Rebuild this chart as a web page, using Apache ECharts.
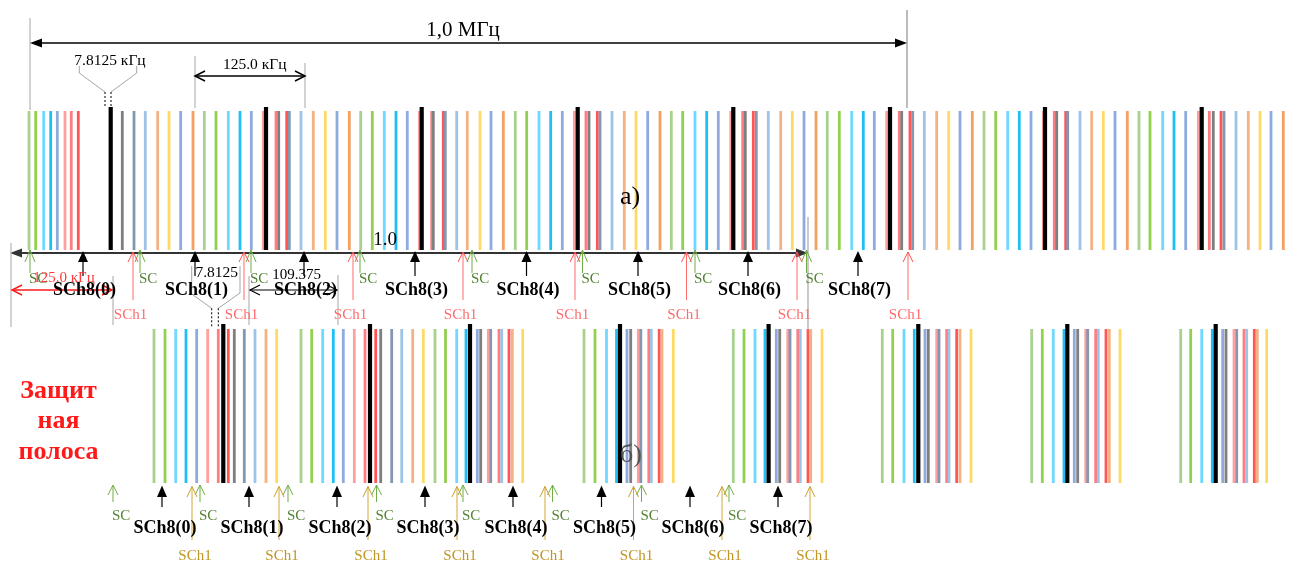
<!DOCTYPE html>
<html><head><meta charset="utf-8">
<script src="https://cdn.jsdelivr.net/npm/echarts@6/dist/echarts.min.js"></script>
<style>html,body{margin:0;padding:0;background:#fff}#c{width:1290px;height:563px}</style>
</head><body><div id="c"></div>
<script>
// ---------- colours of subcarrier lines ----------
const palette = {lg:'#a9d18e', g:'#92d050', lc:'#6fd8ff', c:'#1fbff5', b:'#8faadc', pk:'#ff9f9f',
  sa:'#ff7c80', r:'#ff5555', gy:'#7f7f7f', sl:'#8497b0', lb:'#9dc3e6', pe:'#f4b183', y:'#ffd966', o:'#f4a062', k:'#000000'};

// ---------- row (a): subcarrier positions (frequency position, colour code) ----------
const topLines = [
 [29,'lg'],[35.7,'g'],[43.7,'lc'],[50.7,'c'],[57.3,'b'],[65,'pk'],[71.3,'sa'],[78.3,'r'],
 [110.7,'k'],[122.3,'gy'],[134,'sl'],[145.3,'lb'],[157.7,'pe'],[169,'y'],[180.7,'b'],[193,'o'],[204.3,'lg'],[216,'g'],[228.3,'lc'],[240,'c'],[251.3,'b'],[263.3,'pk'],
 [266,'k'],[276,'sa'],[278.7,'gy'],[286.7,'r'],[289.3,'sl'],[301,'lb'],[313.3,'pe'],[325.3,'y'],[337,'b'],[349.3,'o'],[360.7,'lg'],[372.3,'g'],[384.3,'lc'],[396,'c'],[407.3,'b'],[419.3,'pk'],
 [421.7,'k'],[431.7,'sa'],[433.3,'gy'],[443.3,'r'],[445.3,'sl'],[456.7,'lb'],[467.3,'pe'],[480,'y'],[491,'b'],[503.3,'o'],[515.3,'lg'],[526.7,'g'],[539,'lc'],[550.7,'c'],[562.3,'b'],[574.3,'pk'],
 [577.7,'k'],[586,'sa'],[589,'gy'],[597.3,'r'],[600,'sl'],[612,'lb'],[624.3,'pe'],[636,'y'],[647.7,'b'],[660,'o'],[671.3,'lg'],[682.7,'g'],[695,'lc'],[706.7,'c'],[718.3,'b'],[730.7,'pk'],
 [733.3,'k'],[742.7,'sa'],[745.3,'gy'],[753.3,'r'],[756.3,'sl'],[768.3,'lb'],[780.7,'pe'],[792.3,'y'],[804,'b'],[816,'o'],[827.3,'lg'],[839.3,'g'],[851.7,'lc'],[863.3,'c'],[874.3,'b'],[886.7,'pk'],
 [890,'k'],[899.3,'sa'],[901.7,'gy'],[910,'r'],[912.7,'sl'],[924.3,'lb'],[936.7,'pe'],[948.7,'y'],[960,'b'],[972.3,'o'],[984,'lg'],[995.7,'g'],[1007.7,'lc'],[1019.3,'c'],[1031,'b'],[1043.3,'pk'],
 [1045,'k'],[1054.3,'sa'],[1056.7,'gy'],[1065.7,'r'],[1067.7,'sl'],[1080,'lb'],[1091.7,'pe'],[1103.3,'y'],[1115,'b'],[1127.3,'o'],[1139,'lg'],[1150,'g'],[1162.7,'lc'],[1174,'c'],[1185.7,'b'],[1198.3,'pk'],
 [1201.7,'k'],[1209.3,'sa'],[1213.3,'gy'],[1221,'r'],[1224,'sl'],[1236,'lb'],[1248.3,'pe'],[1260,'y'],[1271,'b'],[1283.3,'o']
];

// ---------- row (б): subcarrier positions ----------
const botLines = [
 [154,'lg'],[165,'g'],[175.7,'lc'],[186,'c'],[196.7,'b'],[207.7,'pk'],[218.3,'sa'],[223.3,'k'],[228.3,'r'],[234.3,'gy'],[244.3,'sl'],[255,'lb'],[266,'pe'],[276.7,'y'],
 [301,'lg'],[311.7,'g'],[322.7,'lc'],[333.3,'c'],[343.3,'b'],[354.3,'pk'],[365,'sa'],[370,'k'],[375.7,'r'],[380.7,'gy'],[391.7,'sl'],[401.7,'lb'],[412.7,'pe'],[423.3,'y'],
 [435,'lg'],[445.5,'g'],[456.7,'lc'],[466,'c'],[470,'k'],[477.3,'b'],[480.7,'gy'],[488.3,'pk'],[490.7,'sl'],[499,'sa'],[501.7,'lb'],[509,'r'],[512.3,'pe'],[522.7,'y'],
 [584,'lg'],[595,'g'],[606.5,'lc'],[616.5,'c'],[620,'k'],[627,'b'],[630.7,'gy'],[638.3,'pk'],[640.8,'sl'],[648.8,'sa'],[651.3,'lb'],[659.2,'r'],[662,'pe'],[673.3,'y'],
 [733.3,'lg'],[744,'g'],[755,'lc'],[765,'c'],[768.6,'k'],[776.3,'b'],[779.7,'gy'],[787.8,'pk'],[790,'sl'],[797.8,'sa'],[800.3,'lb'],[808,'r'],[810.7,'pe'],[822,'y'],
 [882.3,'lg'],[892.7,'g'],[904,'lc'],[914.3,'c'],[918.3,'k'],[925,'b'],[928.3,'gy'],[936.7,'pk'],[939,'sl'],[946.7,'sa'],[949,'lb'],[956.7,'r'],[960,'pe'],[971,'y'],
 [1031.7,'lg'],[1042.3,'g'],[1053.3,'lc'],[1064,'c'],[1067.3,'k'],[1074.3,'b'],[1077.7,'gy'],[1085.7,'pk'],[1087.7,'sl'],[1095.7,'sa'],[1098.3,'lb'],[1106,'r'],[1109.3,'pe'],[1120,'y'],
 [1180.7,'lg'],[1190.7,'g'],[1201.7,'lc'],[1212.3,'c'],[1215.7,'k'],[1222.7,'b'],[1226,'gy'],[1234,'pk'],[1236.7,'sl'],[1244,'sa'],[1246.7,'lb'],[1254.3,'r'],[1257.3,'pe'],[1266.7,'y']
];

// ---------- markers (frequency positions) ----------
const topSCh8X = [83, 195, 304, 415, 526.5, 638, 748, 858];
const topSCh1X = [133, 244, 353, 463, 575, 686.5, 797, 908];
const topSCX   = [30, 140, 251, 360, 472, 582.5, 695, 806.5];
const botSCh8X = [162, 249, 337, 425, 513, 601.5, 690, 778];
const botSCX   = [113, 200, 288, 376.5, 463, 552.5, 641.5, 729];
const botSCh1X = [192, 279, 368, 457, 545, 633.5, 722, 810];
const sch8Labels = ['SCh8(0)','SCh8(1)','SCh8(2)','SCh8(3)','SCh8(4)','SCh8(5)','SCh8(6)','SCh8(7)'];
const texts = {mhz:'1,0 МГц', k125:'125.0 кГц', k78:'7.8125 кГц', a:'a)', b:'б)', one:'1.0', k78s:'7.8125', k109:'109.375',
  guard:['Защит','ная','полоса'], sc:'SC', sch1:'SCh1'};

const FONT = '"Liberation Serif","Times New Roman",serif';
const ROW_A = {top:111, blackTop:107, bot:250};
const ROW_B = {top:329, blackTop:324, bot:483};

function lineSeries(lines, row) {
  return {
    type:'custom', coordinateSystem:'cartesian2d', silent:true,
    data: lines.map(l => [l[0], row.bot]),
    renderItem: (p, api) => {
      const code = lines[p.dataIndex][1];
      const isK = code === 'k';
      const x = api.value(0);
      const a = api.coord([x, isK ? row.blackTop : row.top]);
      const b = api.coord([x, row.bot]);
      return {type:'line', z2: isK ? 10 : 1,
        shape:{x1:a[0], y1:a[1], x2:b[0], y2:b[1]},
        style:{stroke: palette[code], lineWidth: isK ? 4.2 : 2.8}};
    }
  };
}

function annotations(p, api) {
  const C = (x, y) => api.coord([x, y]);
  const els = [];
  const L = (pts, stroke, w, dash) => els.push({type:'polyline', z2:20, shape:{points: pts.map(q => C(q[0], q[1]))},
      style:{stroke, lineWidth:w, fill:null, lineDash: dash || null}});
  const T = (s, x, y, size, fill, weight, align) => els.push({type:'text', z2:30,
      style:{text:s, x:C(x,y)[0], y:C(x,y)[1], fontSize:size, fontFamily:FONT, fontWeight:weight||'normal',
      fill, align:align||'center', verticalAlign:'middle'}});
  const Tri = (pts, fill) => els.push({type:'polygon', z2:20, shape:{points: pts.map(q => C(q[0], q[1]))}, style:{fill}});
  const hArrowFilled = (x1, x2, y, col, w) => {
    L([[x1+8, y],[x2-8, y]], col, w);
    Tri([[x1, y],[x1+12, y-4.5],[x1+12, y+4.5]], col);
    Tri([[x2, y],[x2-12, y-4.5],[x2-12, y+4.5]], col);
  };
  const hArrowOpen = (x1, x2, y, col, w) => {
    L([[x1, y],[x2, y]], col, w);
    L([[x1+10, y-5],[x1, y],[x1+10, y+5]], col, w);
    L([[x2-10, y-5],[x2, y],[x2-10, y+5]], col, w);
  };
  const grey = '#a6a6a6';

  // ---- top dimensions ----
  L([[30,18],[30,110]], grey, 1);
  L([[907,10],[907,108]], grey, 1.5);
  hArrowFilled(30, 907, 43, '#000', 1.4);
  T(texts.mhz, 463, 30, 21, '#000');
  L([[195,56],[195,108]], grey, 1);
  L([[305,63],[305,108]], grey, 1);
  hArrowOpen(195, 305, 76, '#000', 1.5);
  T(texts.k125, 254.7, 65, 15.5, '#000');
  T(texts.k78, 110, 61, 15.5, '#000');
  L([[79.3,66],[79.3,73],[105,92]], grey, 1);
  L([[136.7,66],[136.7,73],[111,92]], grey, 1);
  L([[105,92],[105,108]], '#000', 1, [2,2]);
  L([[111,92],[111,108]], '#000', 1, [2,2]);
  T(texts.a, 630, 197, 26, '#000');

  // ---- main axis of row (a) ----
  hArrowFilled(10, 808, 253, '#333', 2);
  T(texts.one, 385, 240, 19, '#000');
  L([[808,217],[808,330]], grey, 1.2);
  L([[11,243],[11,327]], grey, 1);
  L([[113,276],[113,325]], grey, 1);
  L([[249,276],[249,325]], grey, 1);
  L([[338,275],[338,325]], grey, 1);
  // red 125 kHz
  hArrowOpen(12, 112, 290, '#ff1a1a', 1.4);
  // black 109.375
  hArrowOpen(250, 337, 290, '#000', 1.2);
  T(texts.k109, 296.7, 275, 15, '#000');
  // funnel 7.8125
  L([[191.7,266],[191.7,294],[211.7,308.3]], grey, 1);
  L([[240,266],[240,293],[218.3,308.3]], grey, 1);
  L([[211.7,308.3],[211.7,328]], '#000', 1, [2,2]);
  L([[218.3,308.3],[218.3,328]], '#000', 1, [2,2]);
  T(texts.k78s, 216.7, 273, 15.5, '#000');

  // ---- markers row (a) ----
  topSCX.forEach((x) => {
    L([[x,250],[x,273]], '#70ad47', 1);
    L([[x-5,262],[x,250],[x+5,262]], '#70ad47', 1);
    T(texts.sc, x - 1, 279, 15, '#548235', 'normal', 'left');
  });
  topSCh1X.forEach((x) => {
    L([[x,252],[x,300]], '#ff6b6b', 1);
    L([[x-5,262],[x,252],[x+5,262]], '#ff5050', 1);
    T(texts.sch1, x - 2.5, 315, 15, '#ff6b6b');
  });
  topSCh8X.forEach((x, i) => {
    Tri([[x,251],[x-5,262],[x+5,262]], '#000');
    L([[x,262],[x,276]], '#000', 1.2);
    T(sch8Labels[i], x + 1.5, 290, 18, '#000', 'bold');
  });
  T(texts.k125, 64, 278, 15, '#ff3b3b');

  // ---- row (б) ----
  T(texts.b, 631, 455, 26, '#555');
  texts.guard.forEach((s, i) => T(s, 58.5, [391, 421.5, 452][i], 26, '#ff1a1a', 'bold'));
  botSCX.forEach((x) => {
    L([[x,485],[x,502]], '#70ad47', 1);
    L([[x-5,495],[x,485],[x+5,495]], '#70ad47', 1);
    T(texts.sc, x - 1, 516, 15, '#548235', 'normal', 'left');
  });
  botSCh1X.forEach((x) => {
    L([[x,486.5],[x,540]], '#d4a837', 1);
    L([[x-5,497],[x,486.5],[x+5,497]], '#c9a02c', 1);
    T(texts.sch1, x + 3, 555.7, 15, '#c09420');
  });
  botSCh8X.forEach((x, i) => {
    Tri([[x,485.5],[x-5,497],[x+5,497]], '#000');
    L([[x,497],[x,507]], '#000', 1.2);
    T(sch8Labels[i], x + 3, 528, 18, '#000', 'bold');
  });
  return {type:'group', children: els};
}

const chart = echarts.init(document.getElementById('c'), null, {renderer:'canvas'});
chart.setOption({
  animation:false,
  backgroundColor:'#ffffff',
  grid:{left:0, right:0, top:0, bottom:0, containLabel:false},
  xAxis:{type:'value', min:0, max:1290, show:false},
  yAxis:{type:'value', min:0, max:563, inverse:true, show:false},
  series:[
    lineSeries(topLines, ROW_A),
    lineSeries(botLines, ROW_B),
    {type:'custom', coordinateSystem:'cartesian2d', silent:true, data:[[0,0]], renderItem: annotations, z:5}
  ]
});
</script></body></html>
